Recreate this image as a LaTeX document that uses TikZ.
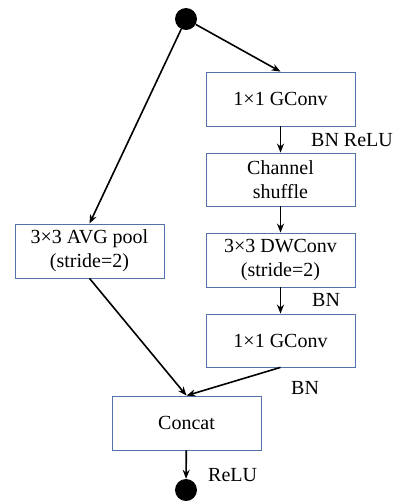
\documentclass[tikz,border=0pt]{standalone}
\usepackage{fontspec}
\setmainfont{Liberation Serif}
\usetikzlibrary{arrows.meta}
\definecolor{boxblue}{RGB}{84,114,170}
\begin{document}
\begin{tikzpicture}[x=1pt,y=-1pt,
  font=\fontsize{20}{24}\selectfont,
  blk/.style={draw=boxblue,line width=0.8pt,minimum width=149pt,minimum height=54pt,align=center,inner sep=0pt},
  dot/.style={circle,fill=black,minimum size=22pt,inner sep=0pt},
  lbl/.style={anchor=west,inner sep=0pt},
  arr/.style={line width=1.6pt,-{Stealth[length=9pt,width=7pt]}}]
\useasboundingbox (0,0) rectangle (396,501);
\node[dot] (top) at (186,19) {};
\node[blk] (b1) at (280.5,99) {1×1 GConv};
\node[blk,minimum height=53pt] (b2) at (280.5,179.5) {Channel\\shuffle};
\node[blk] (b3) at (280.5,260) {3×3 DWConv\\(stride=2)};
\node[blk,minimum height=53pt] (b4) at (280.5,340.5) {1×1 GConv};
\node[blk] (pool) at (89.5,251) {3×3 AVG pool\\(stride=2)};
\node[blk] (cat) at (186.5,423) {Concat};
\node[dot] (bot) at (186,490) {};
\node[lbl] (l1) at (311,140) {BN ReLU};
\node[lbl] (l2) at (312,300) {BN};
\node[lbl] (l3) at (291,388) {BN};
\node[lbl] (l4) at (208,475) {ReLU};
\draw[arr] (top) -- (b1.north);
\draw[arr] (top) -- (pool.north);
\draw[arr] (b1) -- (b2);
\draw[arr] (b2) -- (b3);
\draw[arr] (b3) -- (b4);
\draw[arr] (pool.south) -- (cat.north);
\draw[arr] (b4.south) -- (cat.north);
\draw[arr] (cat) -- (bot);
\end{tikzpicture}
\end{document}
